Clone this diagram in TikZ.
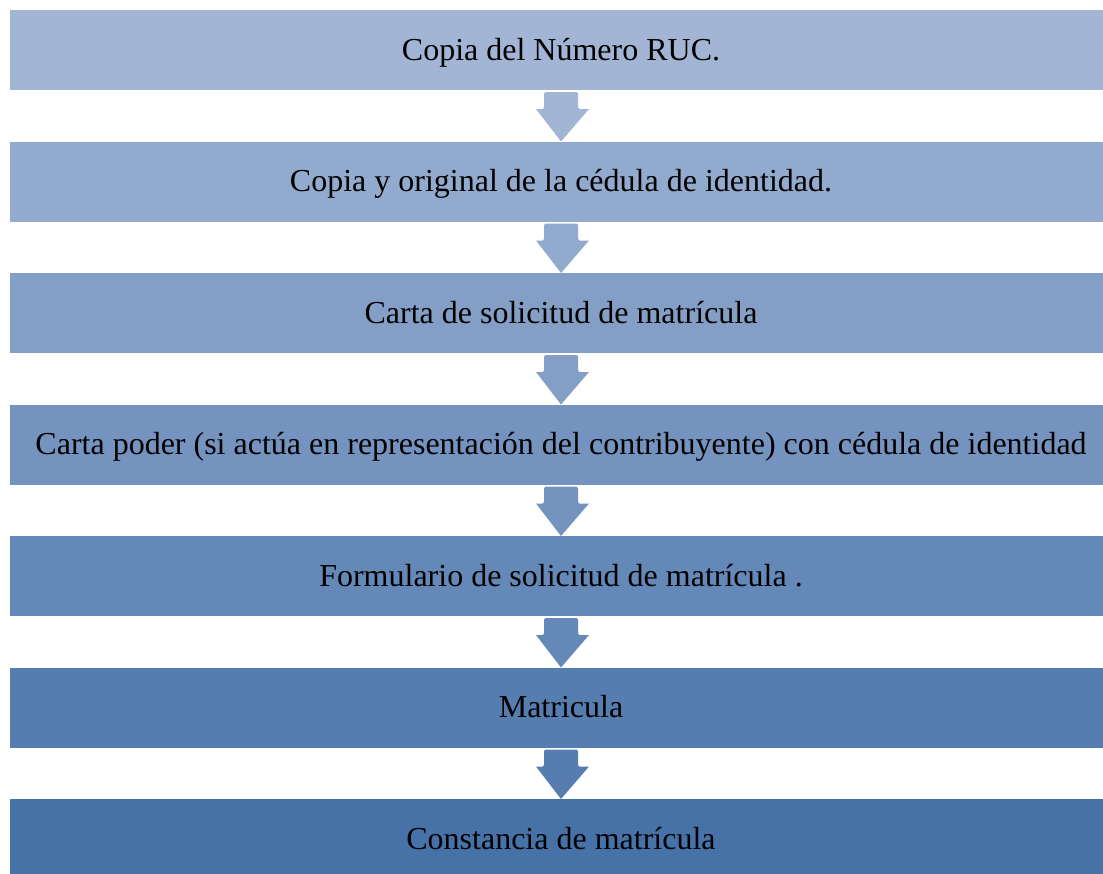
\documentclass[tikz,border=0pt]{standalone}
\usepackage{fontspec}
\setmainfont{Liberation Serif}
\usetikzlibrary{calc}
\definecolor{cA}{RGB}{162,181,213}
\definecolor{cB}{RGB}{70,114,168}
\colorlet{c1}{cA}
\colorlet{c2}{cB!17!cA}
\colorlet{c3}{cB!33!cA}
\colorlet{c4}{cB!50!cA}
\colorlet{c5}{cB!67!cA}
\colorlet{c6}{cB!83!cA}
\colorlet{c7}{cB}
\tikzset{
  x=1pt,y=-1pt,
  stepbox/.style={minimum width=1102pt,minimum height=80pt,inner sep=0pt,outer sep=0pt,anchor=north west,
    font=\fontsize{32}{36}\selectfont,text=black,text height=26pt,text depth=6pt},
}
\newcommand{\downarrowshape}[3]{%
  \fill[#3,rounded corners=1.5pt] ($(#1.south)+(-17,2)$) -- ($(#1.south)+(17,2)$) -- ($(#1.south)+(17,19)$)
    [sharp corners] -- ($(#1.south)+(28,19)$) -- ($(#2.north)+(0,0)$) -- ($(#1.south)+(-25,19)$)
    [rounded corners=1.5pt] -- ($(#1.south)+(-17,19)$) -- cycle;}
\begin{document}
\begin{tikzpicture}
\useasboundingbox (0,0) rectangle (1103,873);
\clip (0,0) rectangle (1103,873);
\node[stepbox,fill=c1] (b1) at (10,10) {Copia del Número RUC.};
\node[stepbox,fill=c2] (b2) at (10,141.5) {Copia y original de la cédula de identidad.};
\node[stepbox,fill=c3] (b3) at (10,273) {Carta de solicitud de matrícula};
\node[stepbox,fill=c4] (b4) at (10,404.5) {Carta poder (si actúa en representación del contribuyente) con cédula de identidad};
\node[stepbox,fill=c5] (b5) at (10,536) {Formulario de solicitud de matrícula .};
\node[stepbox,fill=c6] (b6) at (10,667.5) {Matricula};
\node[stepbox,fill=c7] (b7) at (10,799) {Constancia de matrícula};
\downarrowshape{b1}{b2}{c1}
\downarrowshape{b2}{b3}{c2}
\downarrowshape{b3}{b4}{c3}
\downarrowshape{b4}{b5}{c4}
\downarrowshape{b5}{b6}{c5}
\downarrowshape{b6}{b7}{c6}
\end{tikzpicture}
\end{document}
